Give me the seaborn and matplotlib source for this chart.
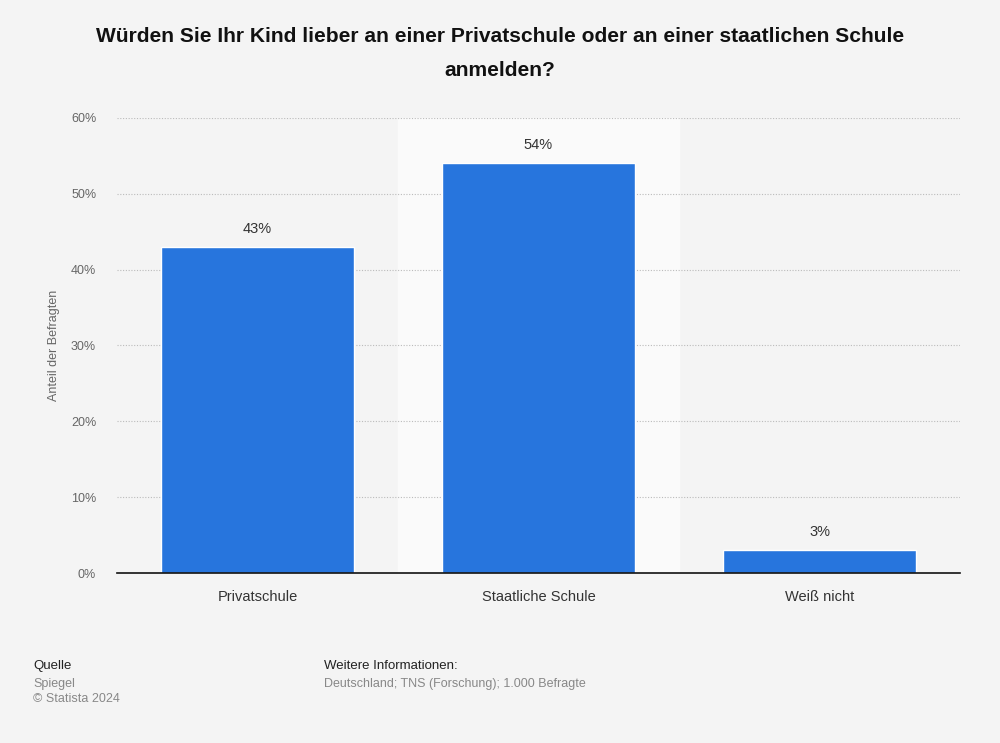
import pandas as pd
import seaborn as sns
import matplotlib.pyplot as plt

# Data
categories = ["Privatschule", "Staatliche Schule", "Weiß nicht"]
values = [43, 54, 3]
yticks = [0, 10, 20, 30, 40, 50, 60]

df = pd.DataFrame({"antwort": categories, "anteil": values})

sns.set_style("white")
plt.rcParams['font.family'] = ['Liberation Sans', 'DejaVu Sans']

bg = "#f4f4f4"
fig = plt.figure(figsize=(10, 7.43), dpi=100, facecolor=bg)
ax = fig.add_axes([0.117, 0.2288, 0.843, 0.6124])
ax.set_facecolor(bg)

# highlighted band behind the middle category
ax.axvspan(0.5, 1.5, color="#fafafa", zorder=0)

sns.barplot(data=df, x="antwort", y="anteil", color="#2775dd", width=0.69,
            saturation=1, ax=ax, zorder=3)

ax.set_xlim(-0.5, 2.5)
ax.set_ylim(0, 60)
ax.set_yticks(yticks)
ax.set_yticklabels([f"{t}%" for t in yticks], color="#666666", fontsize=9)
ax.tick_params(axis="y", length=0, pad=15)
ax.tick_params(axis="x", length=0, pad=12, labelsize=10.5, labelcolor="#333333")

for t in yticks[1:]:
    ax.axhline(t, color="#bbbbbb", lw=0.8, ls=(0, (1, 1.5)), zorder=1)

for s in ["top", "right", "left"]:
    ax.spines[s].set_visible(False)
ax.spines["bottom"].set_color("#111111")
ax.spines["bottom"].set_linewidth(1.2)
ax.spines["bottom"].set_zorder(5)

ax.set_xlabel("")
ax.set_ylabel("Anteil der Befragten", color="#666666", fontsize=9, labelpad=8)

for i, v in enumerate(values):
    ax.text(i, v + 1.5, f"{v}%", ha="center", va="bottom", fontsize=10.5, color="#333333")

fig.text(0.5, 0.963, "Würden Sie Ihr Kind lieber an einer Privatschule oder an einer staatlichen Schule\nanmelden?",
         ha="center", va="top", fontsize=15.1, fontweight="bold", color="#111111", linespacing=2.0)

fig.text(0.033, 0.103, "Quelle", fontsize=9.5, color="#222222", va="center")
fig.text(0.033, 0.080, "Spiegel", fontsize=9, color="#888888", va="center")
fig.text(0.033, 0.059, "© Statista 2024", fontsize=9, color="#888888", va="center")
fig.text(0.324, 0.103, "Weitere Informationen:", fontsize=9.5, color="#222222", va="center")
fig.text(0.324, 0.080, "Deutschland; TNS (Forschung); 1.000 Befragte", fontsize=9, color="#888888", va="center")

fig.savefig("out.png", dpi=100, facecolor=bg)
